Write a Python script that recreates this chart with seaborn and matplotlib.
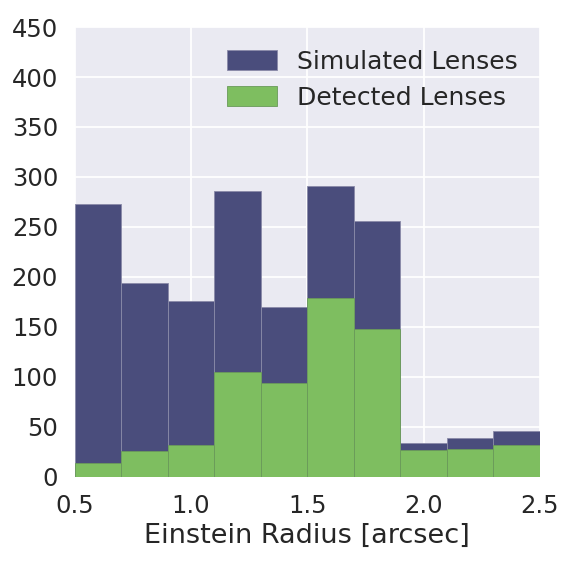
import matplotlib
matplotlib.use('Agg')
import matplotlib.pyplot as plt
import seaborn as sns
import numpy as np

# bin edges and counts
bin_edges = [0.5, 0.7, 0.9, 1.1, 1.3, 1.5, 1.7, 1.9, 2.1, 2.3, 2.5]
simulated = [273, 194, 176, 286, 170, 291, 256, 34, 39, 46]
detected = [14, 26, 32, 105, 94, 179, 148, 27, 28, 32]

centers = [(a + b) / 2 for a, b in zip(bin_edges[:-1], bin_edges[1:])]

sns.set_theme(style='darkgrid')
plt.rcParams['font.family'] = ['DejaVu Sans']

fig = plt.figure(figsize=(5.75, 5.63), dpi=100)
ax = fig.add_axes([0.130, 0.153, 0.809, 0.799])

sns.histplot(x=centers, weights=simulated, bins=bin_edges, ax=ax,
             color='#4a4d7c', alpha=1, edgecolor='#8a8aa8', linewidth=0.6,
             label='Simulated Lenses')
sns.histplot(x=centers, weights=detected, bins=bin_edges, ax=ax,
             color='#7ebe60', alpha=1, edgecolor='#6a9a5a', linewidth=0.6,
             label='Detected Lenses')

ax.set_xlim(0.5, 2.5)
ax.set_ylim(0, 450)
ax.set_xticks([0.5, 1.0, 1.5, 2.0, 2.5])
ax.set_yticks(np.arange(0, 451, 50))
ax.tick_params(labelsize=17.5, colors='#262626', pad=6)
ax.set_xlabel('Einstein Radius [arcsec]', fontsize=19.5, color='#262626',
              labelpad=4)
ax.set_ylabel('')
ax.grid(color='white', linewidth=1.3)
for s in ax.spines.values():
    s.set_visible(False)

ax.legend(loc='upper right', fontsize=18, frameon=False,
          handlelength=2.0, handleheight=0.85, labelspacing=0.5,
          borderaxespad=0.5)

fig.savefig('out.png', dpi=100)
